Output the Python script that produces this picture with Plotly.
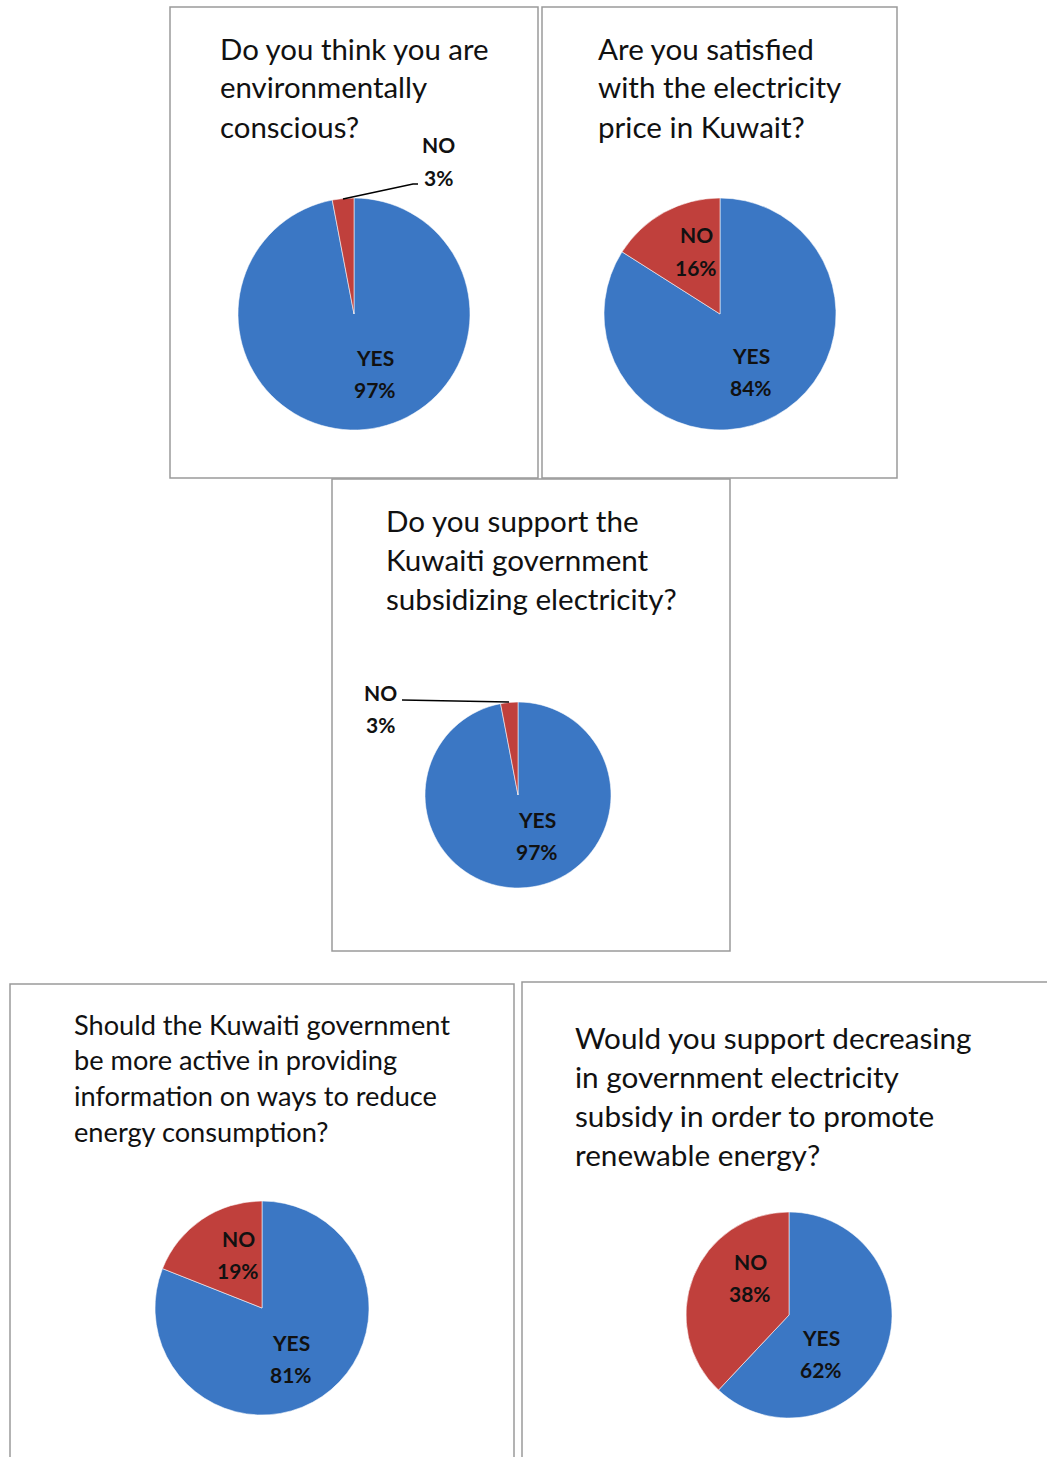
import plotly.graph_objects as go

W, H = 1047, 1457

# ---- data ----
labels = ["YES", "NO"]
q1_values = [97, 3]
q2_values = [84, 16]
q3_values = [97, 3]
q4_values = [81, 19]
q5_values = [62, 38]

q1_title = ["Do you think you are", "environmentally", "conscious?"]
q2_title = ["Are you satisfied", "with the electricity", "price in Kuwait?"]
q3_title = ["Do you support the", "Kuwaiti government", "subsidizing electricity?"]
q4_title = ["Should the Kuwaiti government", "be more active in providing",
            "information on ways to reduce", "energy consumption?"]
q5_title = ["Would you support decreasing", "in government electricity",
            "subsidy in order to promote", "renewable energy?"]

BLUE = "#3b77c4"
RED = "#c0403c"
FONT = "Lato"


def px(x):
    return x / W


def py(y):
    return 1 - y / H


panels = [
    dict(values=q1_values, title=q1_title, box=(170, 7, 538, 478), pie=(354, 314, 116),
         tpos=(218, 48, 39, 29.4), lab={"YES": (375, 357), "NO": (438, 145)},
         leader=[(418, 184), (413, 184), (343, 199)]),
    dict(values=q2_values, title=q2_title, box=(542, 7, 897, 478), pie=(720, 314, 116),
         tpos=(596, 48, 39, 29.6), lab={"YES": (751, 355), "NO": (696, 235)}, leader=None),
    dict(values=q3_values, title=q3_title, box=(332, 479, 730, 951), pie=(518, 795, 93),
         tpos=(384, 520, 39, 29.6), lab={"YES": (537, 819), "NO": (380, 692)},
         leader=[(402, 700), (509, 702)]),
    dict(values=q4_values, title=q4_title, box=(10, 984, 514, 1470), pie=(262, 1308, 107),
         tpos=(72, 1024, 35.7, 27.2), lab={"YES": (291, 1342), "NO": (238, 1238)}, leader=None),
    dict(values=q5_values, title=q5_title, box=(522, 982, 1060, 1470), pie=(789, 1315, 103),
         tpos=(573, 1037, 39.3, 29.7), lab={"YES": (821, 1337), "NO": (750, 1261)}, leader=None),
]

fig = go.Figure()
shapes = []
annotations = []

for p in panels:
    cx, cy, r = p["pie"]
    fig.add_trace(go.Pie(
        labels=labels, values=p["values"], sort=False, direction="clockwise", rotation=0,
        marker=dict(colors=[BLUE, RED], line=dict(color="rgba(255,255,255,0.55)", width=1)),
        textinfo="none", hoverinfo="label+percent", showlegend=False,
        domain=dict(x=[px(cx - r), px(cx + r)], y=[py(cy + r), py(cy - r)]),
    ))
    # box
    x0, y0, x1, y1 = p["box"]
    shapes.append(dict(type="rect", xref="paper", yref="paper",
                       x0=px(x0), x1=px(x1), y0=py(y1), y1=py(y0),
                       line=dict(color="#9a9a9a", width=1.5), fillcolor="rgba(0,0,0,0)",
                       layer="below"))
    # title lines
    tx, ty, dy, fs = p["tpos"]
    for i, line in enumerate(p["title"]):
        annotations.append(dict(x=px(tx), y=py(ty + i * dy), xref="paper", yref="paper",
                                text=line, showarrow=False, xanchor="left", yanchor="middle",
                                font=dict(family=FONT, size=fs, color="#111111")))
    # slice labels
    for lab, val in zip(labels, p["values"]):
        lx, ly = p["lab"][lab]
        annotations.append(dict(x=px(lx), y=py(ly), xref="paper", yref="paper",
                                text=f"<b>{lab}</b>", showarrow=False, xanchor="center",
                                yanchor="middle", font=dict(family=FONT, size=21, color="#111111")))
        annotations.append(dict(x=px(lx), y=py(ly + 32.5), xref="paper", yref="paper",
                                text=f"<b>{val}%</b>", showarrow=False, xanchor="center",
                                yanchor="middle", font=dict(family=FONT, size=21, color="#111111")))
    if p["leader"]:
        pts = p["leader"]
        path = "M " + " L ".join(f"{px(x)},{py(y)}" for x, y in pts)
        shapes.append(dict(type="path", xref="paper", yref="paper", path=path,
                           line=dict(color="#000000", width=1.5)))

fig.update_layout(
    width=W, height=H, margin=dict(l=0, r=0, t=0, b=0),
    paper_bgcolor="white", plot_bgcolor="white",
    shapes=shapes, annotations=annotations,
)

fig.write_html("out.html")
